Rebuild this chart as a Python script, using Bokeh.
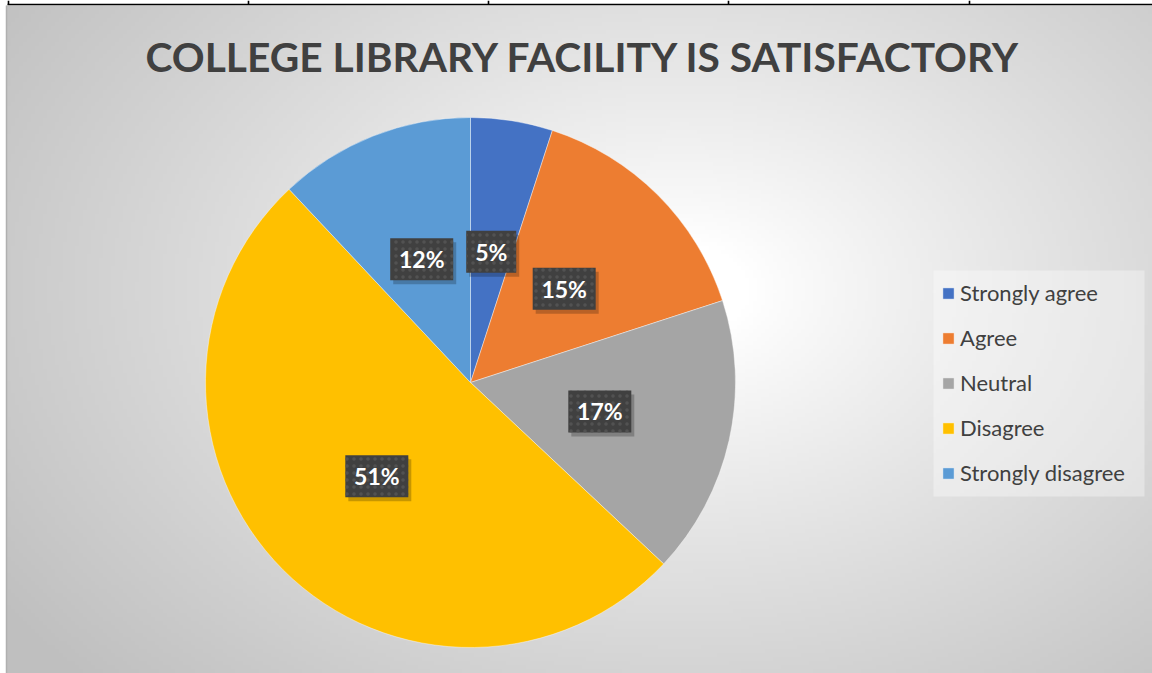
import numpy as np
from bokeh.plotting import figure
from bokeh.models import Range1d, ColumnDataSource, Legend, LegendItem
from bokeh.core.properties import value
from bokeh.embed import file_html
from bokeh.resources import INLINE

# ---- data ----
categories = ["Strongly agree", "Agree", "Neutral", "Disagree", "Strongly disagree"]
percentages = [5, 15, 17, 51, 12]
colors = ["#4472C4", "#ED7D31", "#A5A5A5", "#FFC000", "#5B9BD5"]
title_text = "COLLEGE LIBRARY FACILITY IS SATISFACTORY"

# ---- layout (plot units = screen px, y measured from bottom) ----
W, H = 1152, 673
PX, PY, R = 470, 291, 265   # pie centre and radius
FONT = "Lato"
CH_X0, CH_Y0, CH_W, CH_H = 6, 0, 1146, 668   # chart area

p = figure(width=W, height=H, x_range=Range1d(0, W), y_range=Range1d(0, H),
           output_backend="svg", toolbar_location=None, min_border=0)
p.axis.visible = False
p.grid.visible = False
p.outline_line_color = None
p.background_fill_color = "white"
p.border_fill_color = "white"

# radial gradient background of the chart area
nx, ny = 287, 167
gx = np.linspace(CH_X0, CH_X0 + CH_W, nx)
gy = np.linspace(CH_Y0, CH_Y0 + CH_H, ny)
GX, GY = np.meshgrid(gx, gy)
cx, cy = 680, H - 290
d = np.hypot(GX - cx, (GY - cy) * 1.45)
t = np.clip((d - 70) / 760, 0, 1)
g = (255 - 64 * t ** 0.9).astype(np.uint8)
img = np.empty((ny, nx), dtype=np.uint32)
view = img.view(dtype=np.uint8).reshape((ny, nx, 4))
view[..., 0] = g
view[..., 1] = g
view[..., 2] = g
view[..., 3] = 255
p.image_rgba(image=[img], x=CH_X0, y=CH_Y0, dw=CH_W, dh=CH_H)
p.segment(x0=[CH_X0], y0=[CH_Y0], x1=[CH_X0], y1=[CH_Y0 + CH_H],
          line_color="#b0b0b0", line_width=1.5)

# table rule above the chart
p.segment(x0=[7], y0=[H - 4], x1=[W], y1=[H - 4], line_color="black", line_width=1.6)
tx = [8, 248, 488, 728, 969]
p.segment(x0=tx, y0=[H - 4] * 5, x1=tx, y1=[H] * 5, line_color="black", line_width=1.6)

# title
p.text(x=[583], y=[H - 56], text=[title_text], text_font=value(FONT),
       text_font_style="bold", text_font_size="40.7px", text_color="#404040",
       text_align="center", text_baseline="middle")

# pie
vals = np.array(percentages, dtype=float)
cum = np.concatenate([[0], np.cumsum(vals)]) / vals.sum()
start = np.pi / 2 - 2 * np.pi * cum[:-1]
end = np.pi / 2 - 2 * np.pi * cum[1:]
mid = (start + end) / 2
labels = [f"{v:.0f}%" for v in percentages]
lx = PX + 0.5 * R * np.cos(mid)
ly = PY + 0.5 * R * np.sin(mid)
bw = [24 + 13 * len(s) for s in labels]

src = ColumnDataSource(dict(cat=categories, start=start, end=end, color=colors,
                            lx=lx, ly=ly, sx=lx + 3, sy=ly - 4, bw=bw, label=labels))

r = p.wedge(x=PX, y=PY, radius=R, start_angle="start", end_angle="end",
            direction="clock", fill_color="color", line_color="white",
            line_width=0.8, line_alpha=0.5, source=src)

# data labels
p.rect(x="sx", y="sy", width="bw", height=42, fill_color="black", fill_alpha=0.22,
       line_color=None, source=src)
p.rect(x="lx", y="ly", width="bw", height=42, fill_color="#404040", line_color=None,
       hatch_pattern="dot", hatch_color="#525252", hatch_scale=7, hatch_weight=1,
       source=src)
p.text(x="lx", y="ly", text="label", text_font=value(FONT), text_font_style="bold",
       text_font_size="23px", text_color="white", text_align="center",
       text_baseline="middle", source=src)

# legend panel background
p.quad(left=[933], right=[1144], bottom=[H - 496], top=[H - 270],
       fill_color="white", fill_alpha=0.35, line_color=None)

# legend
legend = Legend(items=[LegendItem(label=c, renderers=[r], index=i)
                       for i, c in enumerate(categories)],
                location=(941, 187), margin=0, padding=12, spacing=18,
                label_height=26, glyph_width=14, glyph_height=14, label_standoff=5,
                label_text_font=FONT, label_text_font_size="22px",
                label_text_color="#404040", background_fill_alpha=0,
                border_line_color=None)
p.add_layout(legend)

open("out.html", "w").write(file_html(p, INLINE))
